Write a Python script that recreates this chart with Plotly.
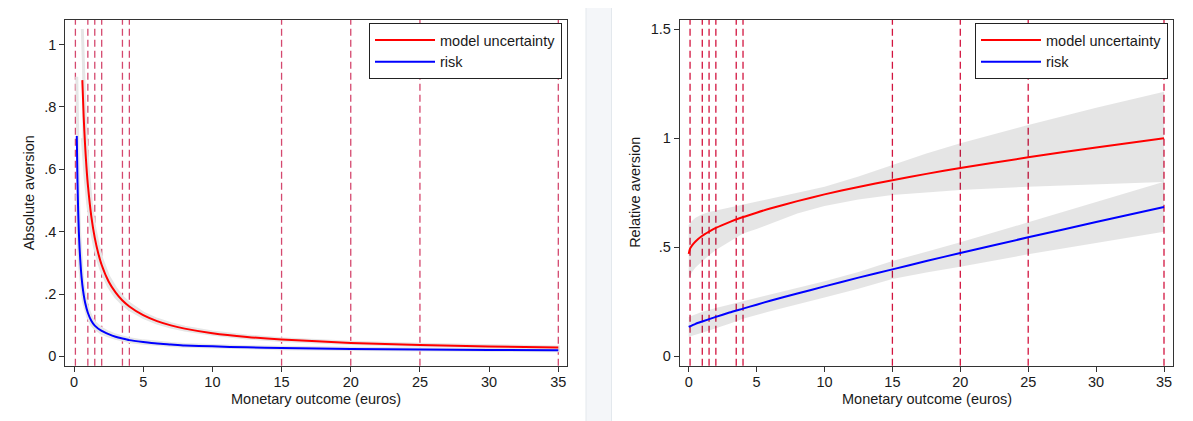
import plotly.graph_objects as go

# ---------------- data ----------------
# Left panel: absolute aversion
abs_mu_x = [0.6, 0.7, 0.8, 0.9, 1, 1.25, 1.5, 1.75, 2, 2.5, 3, 3.5, 4, 5, 6, 7, 8, 10, 12.5, 15, 20, 25, 30, 35]
abs_mu = [0.886, 0.767, 0.677, 0.607, 0.551, 0.449, 0.380, 0.331, 0.293, 0.240, 0.205, 0.179, 0.160, 0.132, 0.113,
          0.0994, 0.089, 0.0743, 0.0622, 0.0539, 0.0432, 0.0365, 0.0319, 0.0286]
abs_mu_lo = [0.70, 0.64, 0.575, 0.525, 0.485, 0.405, 0.348, 0.305, 0.272, 0.224, 0.191, 0.168, 0.150, 0.125, 0.107,
             0.094, 0.0845, 0.0705, 0.059, 0.051, 0.041, 0.0345, 0.0301, 0.027]
abs_mu_hi = [1.05, 0.89, 0.775, 0.69, 0.615, 0.492, 0.412, 0.357, 0.314, 0.256, 0.219, 0.190, 0.170, 0.139, 0.119,
             0.105, 0.0935, 0.078, 0.0654, 0.0568, 0.0454, 0.0385, 0.0337, 0.0302]

abs_risk_x = [0.2, 0.25, 0.3, 0.35, 0.4, 0.5, 0.6, 0.7, 0.8, 1, 1.25, 1.5, 2, 2.5, 3, 3.5, 4, 5, 6, 7, 8, 10, 12.5,
              15, 20, 25, 30, 35]
abs_risk = [0.707, 0.562, 0.467, 0.399, 0.3475, 0.277, 0.230, 0.197, 0.173, 0.140, 0.1144, 0.0987, 0.0815, 0.0712,
            0.063, 0.0571, 0.052, 0.046, 0.041, 0.038, 0.035, 0.032, 0.0288, 0.0267, 0.0237, 0.0218, 0.0205, 0.0196]
abs_risk_lo = [0.52, 0.435, 0.378, 0.33, 0.293, 0.24, 0.202, 0.174, 0.154, 0.126, 0.103, 0.0895, 0.074, 0.065,
               0.0577, 0.0523, 0.0477, 0.0423, 0.0377, 0.035, 0.0322, 0.0295, 0.0266, 0.0246, 0.0218, 0.02,
               0.0187, 0.0178]
abs_risk_hi = [0.897, 0.69, 0.557, 0.468, 0.402, 0.314, 0.258, 0.219, 0.192, 0.154, 0.126, 0.108, 0.089, 0.0774,
               0.0683, 0.0619, 0.0563, 0.0497, 0.0443, 0.041, 0.0378, 0.0345, 0.031, 0.0288, 0.0256, 0.0236,
               0.0223, 0.0214]

# Right panel: relative aversion
rel_mu_x = [0, 0.1, 0.25, 0.5, 1, 1.5, 2, 3, 4, 5, 6, 8, 10, 12.5, 15, 17.5, 20, 25, 30, 35]
rel_mu = [0.47, 0.494, 0.509, 0.527, 0.553, 0.572, 0.589, 0.616, 0.639, 0.659, 0.678, 0.712, 0.743, 0.777, 0.808,
          0.837, 0.864, 0.913, 0.958, 1.0]
rel_mu_lo = [0.358, 0.372, 0.387, 0.407, 0.436, 0.464, 0.488, 0.527, 0.563, 0.584, 0.607, 0.655, 0.69, 0.72, 0.740,
             0.753, 0.763, 0.778, 0.790, 0.800]
rel_mu_hi = [0.602, 0.612, 0.622, 0.636, 0.652, 0.662, 0.669, 0.683, 0.697, 0.710, 0.722, 0.75, 0.778, 0.825, 0.878,
             0.930, 0.977, 1.061, 1.14, 1.214]

rel_risk_x = [0, 0.5, 1, 2, 3, 4, 5, 6, 8, 10, 12.5, 15, 17.5, 20, 25, 30, 35]
rel_risk = [0.135, 0.149, 0.160, 0.181, 0.201, 0.219, 0.237, 0.255, 0.288, 0.321, 0.361, 0.399, 0.437, 0.474, 0.546,
            0.616, 0.685]
rel_risk_lo = [0.09, 0.099, 0.108, 0.128, 0.15, 0.172, 0.19, 0.207, 0.24, 0.27, 0.31, 0.355, 0.385, 0.411, 0.468,
               0.52, 0.572]
rel_risk_hi = [0.18, 0.192, 0.204, 0.222, 0.237, 0.252, 0.267, 0.284, 0.314, 0.345, 0.387, 0.437, 0.48, 0.523,
               0.615, 0.708, 0.801]

# Vertical reference lines (monetary outcomes)
vlines = [0.1, 1, 1.5, 2, 3.5, 4, 15, 20, 25, 35]

x_ticks = [0, 5, 10, 15, 20, 25, 30, 35]
abs_yticks = [0, 0.2, 0.4, 0.6, 0.8, 1]
abs_yticklabels = ["0", ".2", ".4", ".6", ".8", "1"]
rel_yticks = [0, 0.5, 1, 1.5]
rel_yticklabels = ["0", ".5", "1", "1.5"]

series_names = ["model uncertainty", "risk"]
x_title = "Monetary outcome (euros)"
y_titles = ["Absolute aversion", "Relative aversion"]

# ---------------- styling ----------------
# The page body adds an 8px margin, so the figure is drawn 8px smaller and
# all layout positions below are given in window pixels minus that offset.
OFF = 8
W, H = 1193 - OFF, 421 - OFF


def px(X):
    return (X - OFF) / W


def py(Y):
    return 1 - (Y - OFF) / H


FONT = "Liberation Sans, Arial, Helvetica, sans-serif"
FS = 14.5
RED = "#ff0000"
BLUE = "#0000ff"
BAND = "rgba(0,0,0,0.10)"
BAND_SOLID = "#e6e6e6"

fig = go.Figure()


def add_band(x, lo, hi, xa, ya, outline):
    if outline:
        fill, line = BAND_SOLID, dict(width=3, color=BAND_SOLID)
    else:
        fill, line = BAND, dict(width=0)
    fig.add_trace(go.Scatter(
        x=list(x) + list(x)[::-1], y=list(hi) + list(lo)[::-1],
        xaxis=xa, yaxis=ya, fill="toself", fillcolor=fill,
        line=line, mode="lines", hoverinfo="skip", showlegend=False))


def add_line(x, y, color, name, xa, ya, legend):
    fig.add_trace(go.Scatter(
        x=x, y=y, xaxis=xa, yaxis=ya, mode="lines", name=name,
        line=dict(color=color, width=2, shape="spline", smoothing=0.6),
        legend=legend))


# bands first, lines on top
add_band(abs_mu_x, abs_mu_lo, abs_mu_hi, "x", "y", True)
add_band(abs_risk_x, abs_risk_lo, abs_risk_hi, "x", "y", True)
add_band(rel_mu_x, rel_mu_lo, rel_mu_hi, "x2", "y2", False)
add_band(rel_risk_x, rel_risk_lo, rel_risk_hi, "x2", "y2", False)

add_line(abs_mu_x, abs_mu, RED, series_names[0], "x", "y", "legend")
add_line(abs_risk_x, abs_risk, BLUE, series_names[1], "x", "y", "legend")
add_line(rel_mu_x, rel_mu, RED, series_names[0], "x2", "y2", "legend2")
add_line(rel_risk_x, rel_risk, BLUE, series_names[1], "x2", "y2", "legend2")

shapes = []
# white cards on the light page background
shapes.append(dict(type="rect", xref="paper", yref="paper", x0=px(5.5), x1=px(586), y0=-0.02, y1=1.02,
                   fillcolor="white", line=dict(color="#e3e8ed", width=1), layer="below"))
shapes.append(dict(type="rect", xref="paper", yref="paper", x0=px(611.5), x1=px(1191), y0=-0.02, y1=1.02,
                   fillcolor="white", line=dict(color="#e3e8ed", width=1), layer="below"))
for v in vlines:
    shapes.append(dict(type="line", xref="x", yref="y domain", x0=v, x1=v, y0=0, y1=1,
                       line=dict(color="#d4486e", width=1.3, dash="7px,4px"), layer="below"))
    shapes.append(dict(type="line", xref="x2", yref="y2 domain", x0=v, x1=v, y0=0, y1=1,
                       line=dict(color="#d2143f", width=1.3, dash="7px,4px"), layer="below"))

annotations = [
    dict(text=x_title, xref="x domain", x=0.5, yref="paper", y=py(398.5), xanchor="center", yanchor="middle",
         showarrow=False, font=dict(size=FS)),
    dict(text=x_title, xref="x2 domain", x=0.5, yref="paper", y=py(398.5), xanchor="center", yanchor="middle",
         showarrow=False, font=dict(size=FS)),
    dict(text=y_titles[0], xref="paper", x=px(28.5), yref="y domain", y=0.5, xanchor="center", yanchor="middle",
         textangle=-90, showarrow=False, font=dict(size=FS)),
    dict(text=y_titles[1], xref="paper", x=px(635), yref="y2 domain", y=0.5, xanchor="center", yanchor="middle",
         textangle=-90, showarrow=False, font=dict(size=FS)),
]

axis_common = dict(showgrid=False, zeroline=False, showline=True, mirror=True, linecolor="#333333", linewidth=1,
                   ticks="outside", ticklen=5, tickwidth=1, tickcolor="#333333",
                   tickfont=dict(size=FS, color="#1a1a1a", family=FONT))

y_dom = [py(365.7), py(20)]

fig.update_layout(
    width=W, height=H,
    margin=dict(l=0, r=0, t=0, b=0),
    paper_bgcolor="#f4f6f9",
    plot_bgcolor="white",
    font=dict(family=FONT, size=FS, color="#1a1a1a"),
    shapes=shapes,
    annotations=annotations,
    xaxis=dict(domain=[px(65.3), px(567.3)], range=[-0.63, 35.65], tickvals=x_ticks, anchor="y",
               ticklabelstandoff=-2, **axis_common),
    yaxis=dict(domain=y_dom, range=[-0.030, 1.079], tickvals=abs_yticks, ticktext=abs_yticklabels, anchor="x",
               **axis_common),
    xaxis2=dict(domain=[px(679.7), px(1173.3)], range=[-0.663, 35.685], tickvals=x_ticks, anchor="y2",
                ticklabelstandoff=-2, **axis_common),
    yaxis2=dict(domain=y_dom, range=[-0.043, 1.543], tickvals=rel_yticks, ticktext=rel_yticklabels, anchor="x2",
                **axis_common),
    legend=dict(x=px(562), y=py(23), xanchor="right", yanchor="top", bgcolor="white",
                bordercolor="#222222", borderwidth=1, font=dict(size=FS), itemwidth=60, tracegroupgap=0),
    legend2=dict(x=px(1168), y=py(23), xanchor="right", yanchor="top", bgcolor="white",
                 bordercolor="#222222", borderwidth=1, font=dict(size=FS), itemwidth=60, tracegroupgap=0),
    showlegend=True,
)

fig.write_html("out.html")
